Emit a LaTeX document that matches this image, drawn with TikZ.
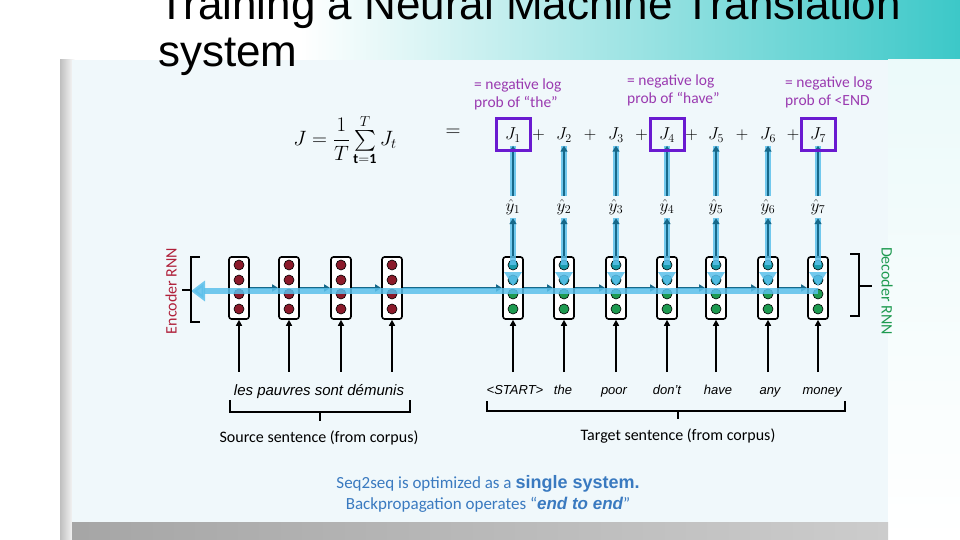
\documentclass[tikz,border=0pt]{standalone}
\usepackage{fontspec}
\setmainfont{Carlito}
\newfontfamily\titlefont{Liberation Sans}
\usepackage{amsmath}
\usetikzlibrary{arrows.meta,decorations.pathreplacing,calc}
\definecolor{panel}{HTML}{F0F8FB}
\definecolor{teal}{HTML}{3CC8C8}
\definecolor{encred}{HTML}{8B1A2A}
\definecolor{dteal}{HTML}{1A9AAA}
\definecolor{dgreen}{HTML}{1E9A50}
\definecolor{darrow}{HTML}{17698A}
\definecolor{larrow}{HTML}{5BC0EB}
\definecolor{purp}{HTML}{6A1AD0}
\definecolor{annot}{HTML}{9A3AB0}
\definecolor{bottxt}{HTML}{3A7AC0}
\definecolor{encl}{HTML}{B0203A}
\tikzset{
  cellbox/.style={draw=black,line width=1.6pt,rounded corners=2.5pt,minimum width=20pt,minimum height=62pt,inner sep=0pt},
  dot/.style={circle,draw=black,line width=0.6pt,minimum size=10pt,inner sep=0pt},
  dark/.style={draw=darrow,line width=2.2pt,-{Triangle[length=6pt,width=7pt]}},
  light/.style={draw=larrow,line width=6pt,opacity=0.85},
  inarrow/.style={draw=black,line width=2pt,-{Triangle[length=6pt,width=6pt]}},
  pbox/.style={draw=purp,line width=3pt,minimum width=34pt,minimum height=32pt,inner sep=0pt},
  word/.style={font=\titlefont\itshape\fontsize{13}{14}\selectfont,inner sep=0pt,text height=10pt,text depth=3pt},
  ann/.style={text=annot,font=\fontsize{15.5}{18}\selectfont,align=left,inner sep=0pt,anchor=west}
}
\begin{document}
\begin{tikzpicture}[x=1pt,y=-1pt]
\useasboundingbox (0,0) rectangle (960,540);
\fill[white] (0,0) rectangle (960,540);
\shade[left color=white,right color=teal] (300,0) rectangle (960,60);
\shade[top color=white!90!teal,bottom color=white] (888,60) rectangle (960,540);
\shade[left color=gray!50,right color=white] (60,60) rectangle (75,540);
\fill[panel] (72,60) rectangle (888,522);
\shade[left color=gray!70,right color=gray!40] (72,522) rectangle (888,540);
% title
\node[anchor=west,font=\titlefont\fontsize{44}{48}\selectfont,inner sep=0pt] (t1) at (158,8) {Training a Neural Machine Translation};
\node[anchor=west,font=\titlefont\fontsize{44}{48}\selectfont,inner sep=0pt] (t2) at (158,57) {system};
% annotations
\node[ann] (a1) at (474,94) {= negative log\\prob of ``the''};
\node[ann] (a2) at (627,90) {= negative log\\prob of ``have''};
\node[ann] (a3) at (785,92) {= negative log\\prob of <END};
% formula
\node[font=\fontsize{20}{22}\selectfont] (J) at (345,140) {$J=\dfrac{1}{T}\sum\limits_{\mathbf{t=1}}^{T}J_t$};
\node[font=\fontsize{22}{22}\selectfont] (eq) at (453,133) {$=$};
% cells
\foreach \i/\x in {1/239,2/289,3/341,4/392}{
  \node[cellbox,fill=white] (e\i) at (\x,288) {};
  \foreach \k/\yy in {1/265,2/280,3/294,4/309} \node[dot,fill=encred] (e\i d\k) at (\x,\yy) {};
}
\foreach \i/\x/\w in {1/513/<START>,2/564/the,3/616/poor,4/667/don't,5/716/have,6/768/any,7/818/money}{
  \node[cellbox,fill=white] (d\i) at (\x,288) {};
  \node[dot,fill=dteal] (d\i d1) at (\x,265) {};
  \node[dot,fill=dteal] (d\i d2) at (\x,280) {};
  \node[dot,fill=dgreen] (d\i d3) at (\x,294) {};
  \node[dot,fill=dgreen] (d\i d4) at (\x,309) {};
  \node (yh\i) at (\x,207) {\fontsize{17}{17}\selectfont$\hat y_{\i}$};
  \node (J\i) at (\x,135) {\fontsize{17}{17}\selectfont$J_{\i}$};
  \coordinate (in\i) at (\x,372);
  \draw[inarrow] (in\i) -- (d\i.south);
  \draw[light] (d\i d1.center) -- (yh\i.south);
  \draw[light] (yh\i.north) -- (J\i.south);
  \draw[dark,line width=2pt] (d\i.north) -- (yh\i.south);
  \draw[dark,line width=2pt] (yh\i.north) -- (J\i.south);
  \fill[larrow,opacity=0.85] (\x-9,272) -- (\x+9,272) -- (\x,286) -- cycle;
}
\foreach \i/\x/\w in {1/515/<START>,2/563/the,3/614/poor,4/667/don’t,5/718/have,6/770/any,7/822/money}
  \node[word] (w\i) at (\x,391) {\w};
\foreach \i in {2,...,7}{
  \pgfmathtruncatemacro{\j}{\i-1}
  \node[font=\fontsize{17}{17}\selectfont] (p\i) at ($(J\j)!0.5!(J\i)$) {$+$};
}
\foreach \i in {1,4,7} \node[pbox] (b\i) at (J\i) {};
\foreach \i in {1,2,3,4}{\coordinate (ein\i) at ($(e\i.south)+(0,52)$); \draw[inarrow] (ein\i) -- (e\i.south);}
\draw[dark] (e1) -- (e2);
\draw[dark] (e2) -- (e3);
\draw[dark] (e3) -- (e4);
\draw[dark] (e4) -- (d1);
\foreach \i in {1,...,6}{\pgfmathtruncatemacro{\j}{\i+1}\draw[dark] (d\i) -- (d\j);}
\coordinate (bl) at (191,291);
\draw[draw=larrow,line width=6pt,opacity=0.85,-{Triangle[length=14pt,width=20pt]}] (d7.center|-bl) -- (bl);
% brackets
\draw[line width=1.2pt] (200,257) -- ++(-9,0) -- ++(0,65) -- ++(9,0);
\coordinate (lt) at (182,290);
\draw[line width=1.2pt] (191,290) -- (lt);
\draw[line width=1.2pt] (850,254) -- ++(9,0) -- ++(0,62) -- ++(-9,0);
\coordinate (rt) at (872,286);
\draw[line width=1.2pt] (859,286) -- (rt);
\node[rotate=90,text=encl,font=\fontsize{16}{16}\selectfont] (encl) at (171,291) {Encoder RNN};
\node[rotate=-90,text=dgreen,font=\fontsize{16}{16}\selectfont] (decl) at (887,291) {Decoder RNN};
% words
\node[word,font=\titlefont\itshape\fontsize{15}{16}\selectfont] (src) at (319,392) {les pauvres sont d\'emunis};
\draw[line width=1.3pt] (230,400) -- (230,412) -- (410,412) -- (410,400);
\draw[line width=1.3pt] (320,412) -- (320,421);
\draw[line width=1.3pt] (487,401) -- (487,411) -- (845,411) -- (845,401);
\draw[line width=1.3pt] (678,411) -- (678,419);
\node[font=\fontsize{16}{16}\selectfont] (sl) at (319,438) {Source sentence (from corpus)};
\node[font=\fontsize{16}{16}\selectfont] (tl) at (678,436) {Target sentence (from corpus)};
\node[text=bottxt,font=\fontsize{17}{17}\selectfont] (b1) at (488,484) {Seq2seq is optimized as a {\titlefont\bfseries\fontsize{18}{18}\selectfont single system.}};
\node[text=bottxt,font=\fontsize{17}{17}\selectfont] (b2) at (488,505) {Backpropagation operates “{\titlefont\bfseries\itshape\fontsize{17}{17}\selectfont end to end}”};
\end{tikzpicture}
\end{document}
